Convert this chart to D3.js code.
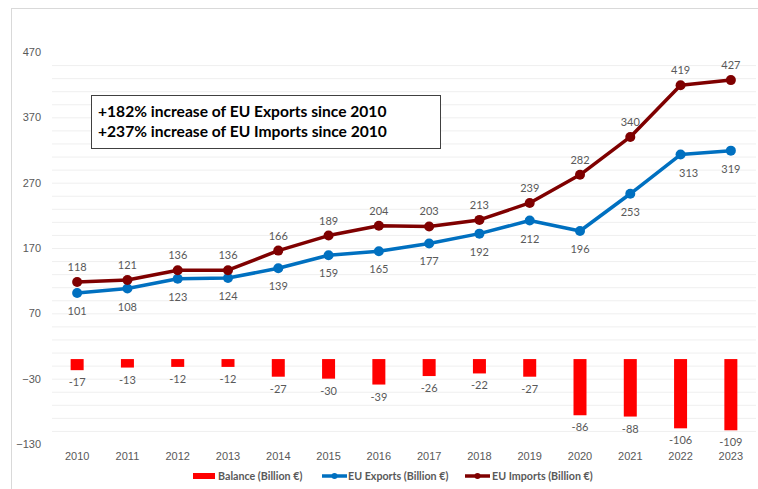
<!DOCTYPE html>
<html><head><meta charset="utf-8">
<script src="https://cdn.jsdelivr.net/npm/d3@7"></script>
<style>body{margin:0;background:#fff}svg{display:block;font-family:Lato,"Open Sans",sans-serif}</style>
</head><body><svg id="c" width="758" height="489"></svg>
<script>
const years = ["2010","2011","2012","2013","2014","2015","2016","2017","2018","2019","2020","2021","2022","2023"];
const exportsEU = [101,108,123,124,139,159,165,177,192,212,196,253,313,319];
const importsEU = [118,121,136,136,166,189,204,203,213,239,282,340,419,427];
const balance = [-17,-13,-12,-12,-27,-30,-39,-26,-22,-27,-86,-88,-106,-109];
const yTicks = [-130,-30,70,170,270,370,470];
const gridVals = d3.range(-110, 451, 20);
const note = ["+182% increase of EU Exports since 2010","+237% increase of EU Imports since 2010"];
const legendItems = ["Balance (Billion €)","EU Exports (Billion €)","EU Imports (Billion €)"];

const svg = d3.select("#c");
const gray = "#595959";
svg.append("rect").attr("x",11.5).attr("y",8.5).attr("width",800).attr("height",600)
  .attr("fill","none").attr("stroke","#d9d9d9");

const x = d3.scaleBand().domain(years).range([52,756]);
const y = d3.scaleLinear().domain([-130,470]).range([444,52]);
const cx = d => x(d) + x.bandwidth()/2;

svg.append("g").selectAll("line").data(gridVals).join("line")
  .attr("x1",52).attr("x2",756).attr("y1",d=>y(d)+0.5).attr("y2",d=>y(d)+0.5)
  .attr("stroke","#efefef").attr("stroke-width",1);

const yAxis = svg.append("g").attr("transform","translate(41,0)")
  .call(d3.axisLeft(y).tickValues(yTicks).tickSize(0).tickPadding(0));
yAxis.select(".domain").remove();
yAxis.selectAll("text").attr("fill",gray).attr("font-size",11);

const xAxis = svg.append("g").attr("transform","translate(0,452)")
  .call(d3.axisBottom(x).tickSize(0).tickPadding(0));
xAxis.select(".domain").remove();
xAxis.selectAll("text").attr("fill",gray).attr("font-size",11);

// bars
const bw = 13;
svg.append("g").selectAll("rect").data(balance).join("rect")
  .attr("x",(d,i)=>cx(years[i])-bw/2).attr("width",bw)
  .attr("y",y(0)).attr("height",d=>y(d)-y(0)).attr("fill","#ff0000");
svg.append("g").selectAll("text").data(balance).join("text")
  .attr("x",(d,i)=>cx(years[i])).attr("y",d=>y(d)+16)
  .attr("text-anchor","middle").attr("fill",gray).attr("font-size",11).text(d=>d);

function series(vals,color,above){
  const line = d3.line().x((d,i)=>cx(years[i])).y(d=>y(d));
  svg.append("path").datum(vals).attr("d",line).attr("fill","none")
    .attr("stroke",color).attr("stroke-width",3.5).attr("stroke-linejoin","round");
  svg.append("g").selectAll("circle").data(vals).join("circle")
    .attr("cx",(d,i)=>cx(years[i])).attr("cy",d=>y(d)).attr("r",5).attr("fill",color);
  svg.append("g").selectAll("text").data(vals).join("text")
    .attr("x",(d,i)=>cx(years[i]) + (!above && i===12 ? 8 : 0)).attr("y",d=>above? y(d)-11 : y(d)+22)
    .attr("text-anchor","middle").attr("fill",gray).attr("font-size",11).text(d=>d);
}
series(exportsEU,"#0070c0",false);
series(importsEU,"#7f0000",true);

// note box
svg.append("rect").attr("x",91.5).attr("y",95.5).attr("width",349).attr("height",53)
  .attr("fill","#fff").attr("stroke","#404040").attr("stroke-width",1);
svg.append("g").selectAll("text").data(note).join("text")
  .attr("x",98).attr("y",(d,i)=>117+i*20).attr("font-size",15.6).attr("font-weight","bold")
  .attr("fill","#000").text(d=>d);

// legend
const lg = svg.append("g").attr("font-size",10.7).attr("font-weight","bold").attr("fill",gray);
const lx = [193,322,465];
lg.append("rect").attr("x",lx[0]).attr("y",473).attr("width",22).attr("height",6).attr("fill","#ff0000");
[["#0070c0",1],["#7f0000",2]].forEach(([c,i])=>{
  lg.append("line").attr("x1",lx[i]).attr("x2",lx[i]+25).attr("y1",476).attr("y2",476)
    .attr("stroke",c).attr("stroke-width",3.5);
  lg.append("circle").attr("cx",lx[i]+12.5).attr("cy",476).attr("r",3).attr("fill",c);
});
const tx = [218,348,492];
lg.selectAll("text").data(legendItems).join("text")
  .attr("x",(d,i)=>tx[i]).attr("y",480).text(d=>d);
</script></body></html>
